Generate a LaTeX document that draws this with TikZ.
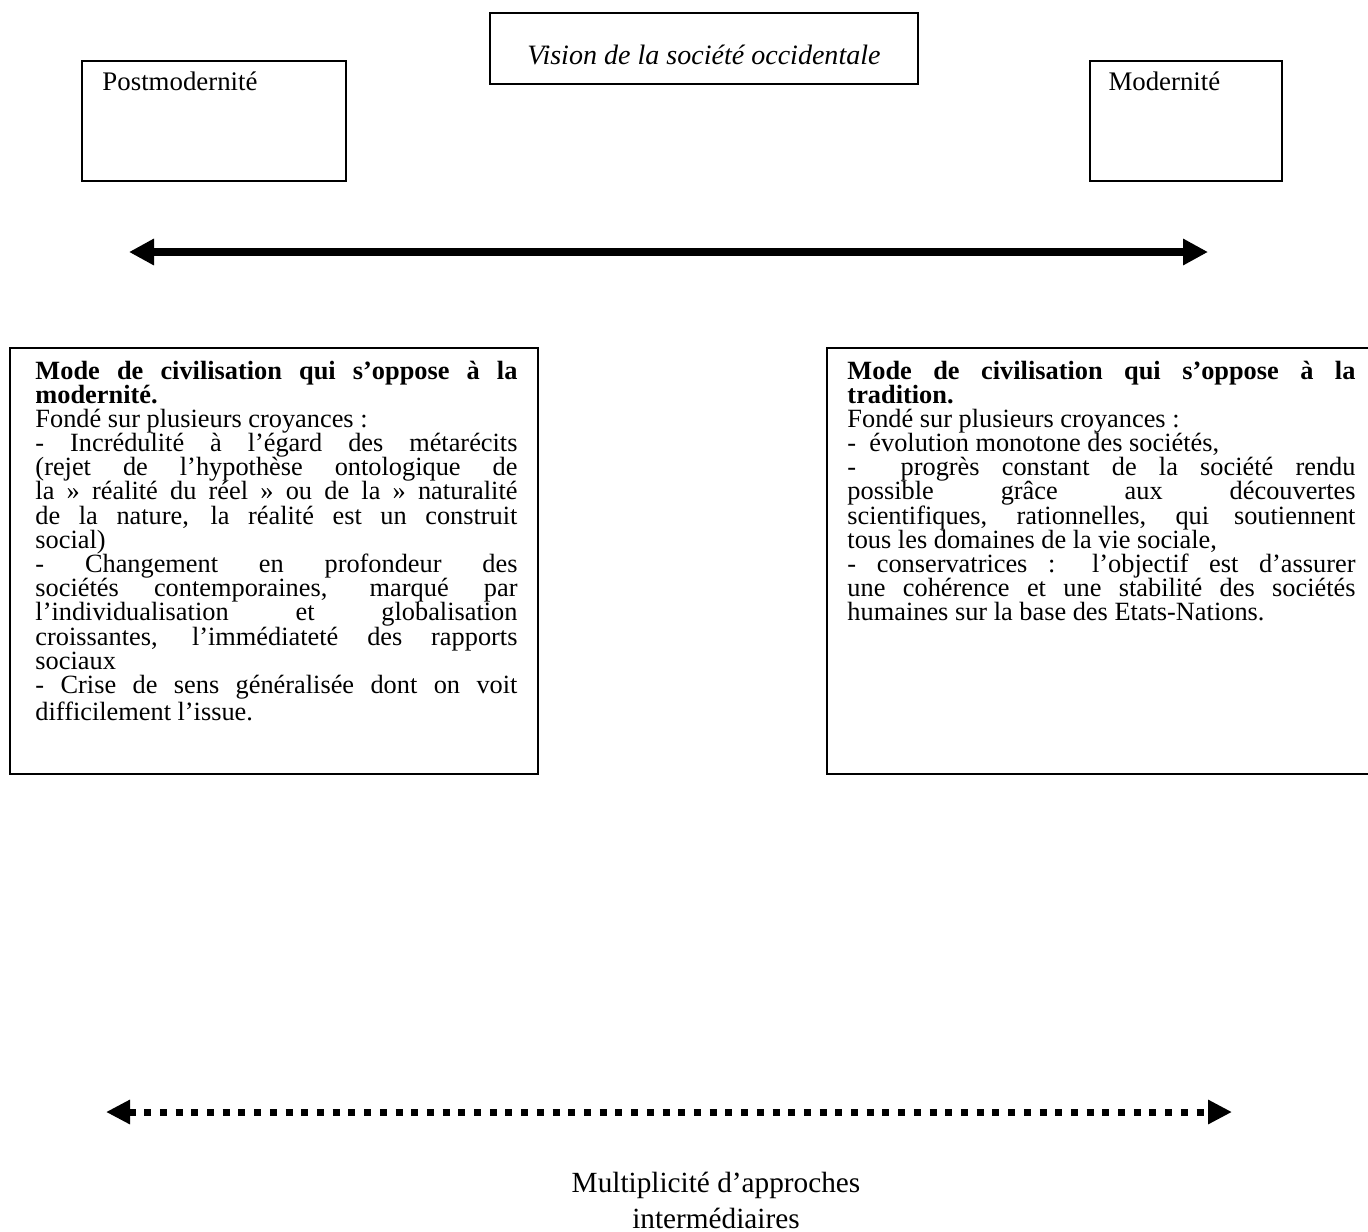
\documentclass[tikz,border=0pt]{standalone}
\usepackage{fontspec}
\setmainfont{Liberation Serif}
\usetikzlibrary{arrows.meta}
\tolerance=10000
\hyphenpenalty=10000
\exhyphenpenalty=10000
\hbadness=10000
\newcommand\fixlines{\lineskiplimit=-100pt\lineskip=0pt\baselineskip=9.92pt\relax}
\begin{document}
\begin{tikzpicture}[x=0.41pt,y=-0.41pt,
  frame/.style={draw, line width=0.9pt, inner sep=0pt, anchor=north west},
  label/.style={inner sep=0pt, font=\fontsize{12}{14}\selectfont},
  small/.style={inner sep=0pt, font=\fontsize{11}{12}\selectfont},
  body/.style={inner sep=0pt, anchor=base west, align=justify, font=\fontsize{10.8}{9.92}\selectfont},
  bigarrow/.style={line width=3.3pt, {Triangle[length=10.25pt,width=10.25pt]}-{Triangle[length=10.25pt,width=10.25pt]}},
  dotarrow/.style={line width=2.87pt, dash pattern=on 2.87pt off 3.57pt, {Triangle[length=9.84pt,width=9.43pt]}-{Triangle[length=9.84pt,width=9.43pt]}}
]
\useasboundingbox (0,0) rectangle (1368,1231);

% top boxes
\node[frame, minimum width=428*0.41pt, minimum height=71*0.41pt] (vision) at (489,12) {};
\node[label, font=\fontsize{11.5}{14}\selectfont\itshape, anchor=base] (visiontxt) at (704,64) {Vision de la société occidentale};

\node[frame, minimum width=264*0.41pt, minimum height=120*0.41pt] (post) at (81,60) {};
\node[small, anchor=base west] (posttxt) at (102,90) {Postmodernité};

\node[frame, minimum width=192*0.41pt, minimum height=120*0.41pt] (mod) at (1089,60) {};
\node[small, anchor=base west] (modtxt) at (1108,90) {Modernité};

% thick arrow
\coordinate (tl) at (129,252);
\coordinate (tr) at (1208,252);
\draw[bigarrow] (tl) -- (tr);

% big boxes
\node[frame, minimum width=528*0.41pt, minimum height=426*0.41pt] (leftbox) at (9,347) {};
\node[body, text width=482*0.41pt] (lefttxt) at (35,379) {\fixlines
\textbf{Mode de civilisation qui s’oppose à la\linebreak modernité.}\par
Fondé sur plusieurs croyances~:\par
- Incrédulité à l’égard des métarécits\linebreak (rejet de l’hypothèse ontologique de\linebreak la~»~réalité du réel~» ou de la~»~naturalité\linebreak de la nature, la réalité est un construit\linebreak social)\par
- Changement en profondeur des\linebreak sociétés contemporaines, marqué par\linebreak l’individualisation et globalisation\linebreak croissantes, l’immédiateté des rapports\linebreak sociaux\par
- Crise de sens généralisée dont on voit\linebreak difficilement l’issue.};

\node[frame, minimum width=570*0.41pt, minimum height=426*0.41pt] (rightbox) at (826,347) {};
\node[body, text width=508*0.41pt] (righttxt) at (847,379) {\fixlines
\textbf{Mode de civilisation qui s’oppose à la\linebreak tradition.}\par
Fondé sur plusieurs croyances~:\par
- \ évolution monotone des sociétés,\par
- \ progrès constant de la société rendu\linebreak possible grâce aux découvertes\linebreak scientifiques, rationnelles, qui soutiennent\linebreak tous les domaines de la vie sociale,\par
- conservatrices~: l’objectif est d’assurer\linebreak une cohérence et une stabilité des sociétés\linebreak humaines sur la base des Etats-Nations.};

% dotted arrow
\coordinate (dl) at (106,1112);
\coordinate (dr) at (1232,1112);
\draw[dotarrow] (dl) -- (dr);

\node[label, align=center, anchor=base, font=\fontsize{12}{14.76}\selectfont] (multi) at (716,1228) {Multiplicité d’approches\\intermédiaires};
\end{tikzpicture}
\end{document}
